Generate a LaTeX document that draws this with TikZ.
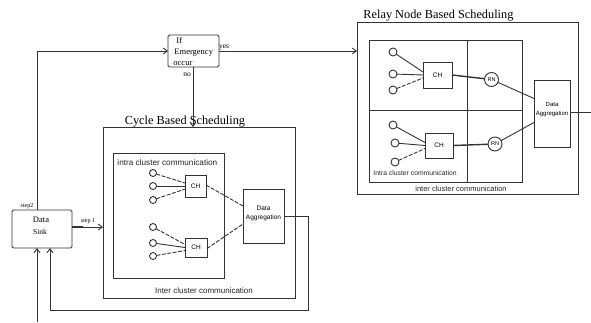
\documentclass[tikz,border=0pt]{standalone}
\usepackage{fontspec}
\setmainfont{Liberation Serif}
\setsansfont{Liberation Sans}
\usetikzlibrary{arrows.meta}
\begin{document}
\begin{tikzpicture}[x=1pt,y=-1pt,
  line width=0.9pt, draw=black!80,
  bx/.style={draw, inner sep=0pt, outer sep=0pt, anchor=north west},
  smallc/.style={draw, circle, inner sep=0pt, outer sep=0pt, minimum size=7pt},
  rnc/.style={draw, circle, inner sep=0pt, outer sep=0pt, minimum size=14pt, font=\sffamily\fontsize{5.5}{6}\selectfont},
  chbox/.style={draw, inner sep=0pt, outer sep=0pt, font=\sffamily\fontsize{6.5}{7}\selectfont},
  title/.style={font=\fontsize{12.3}{14}\selectfont, inner sep=0pt},
  lbl/.style={font=\sffamily\fontsize{8.2}{9}\selectfont, inner sep=0pt, text=black!85},
  tiny/.style={font=\fontsize{6}{7}\selectfont, inner sep=0pt},
  arr/.style={-{Straight Barb[length=4pt,width=6pt]}},
  dsh/.style={dash pattern=on 4pt off 1.5pt}
]
\useasboundingbox (0,0) rectangle (591,322);

% ---------- If Emergency box ----------
\node[bx, rounded corners=1.5pt, minimum width=51pt, minimum height=32pt] (em) at (168,35) {};
\node[anchor=west, inner sep=0pt, font=\fontsize{8.5}{10}\selectfont] (t1) at (176,41) {If};
\node[anchor=west, inner sep=0pt, font=\fontsize{8.5}{10}\selectfont] (t2) at (174,53) {Emergency};
\node[anchor=west, inner sep=0pt, font=\fontsize{8.5}{10}\selectfont] (t3) at (173,64) {occur};
\node[tiny, font=\fontsize{7.5}{8}\selectfont] (yes) at (224,48) {yes};
\node[tiny, font=\fontsize{7.5}{8}\selectfont] (no) at (187,75) {no};

% ---------- Data Sink ----------
\node[bx, rounded corners=1.5pt, minimum width=60pt, minimum height=38pt] (ds) at (12,210) {};
\node[inner sep=0pt, font=\fontsize{8.5}{9}\selectfont] (dst1) at (41,220) {Data};
\node[inner sep=0pt, font=\fontsize{7.5}{9}\selectfont] (dst2) at (40,232) {Sink};
\node[tiny] (s2) at (27,206) {step2};
\node[tiny] (s1) at (88,221) {step 1};

% ---------- Cycle Based Scheduling ----------
\node[bx, minimum width=192pt, minimum height=171pt] (cyc) at (103,127) {};
\node[title] (cyct) at (185,122) {Cycle Based Scheduling};
\node[bx, minimum width=111pt, minimum height=125pt] (cin) at (113,153) {};
\node[lbl, anchor=west] (cinl) at (117,163) {intra cluster communication};
\node[lbl, font=\sffamily\fontsize{8}{9}\selectfont] (cycl) at (204,291) {Inter cluster communication};

\node[chbox, minimum width=21pt, minimum height=22pt] (ch1) at (195.5,186) {CH};
\node[chbox, minimum width=22pt, minimum height=19pt] (ch2) at (196,247.5) {CH};
\node[smallc] (a1) at (153,173) {};
\node[smallc] (a2) at (153,186) {};
\node[smallc] (a3) at (153,200) {};
\node[smallc] (b1) at (153,227) {};
\node[smallc] (b2) at (153,243) {};
\node[smallc] (b3) at (153,256) {};
\draw[dsh] (a1) -- ([yshift=3pt]ch1.west);
\draw (a2) -- (ch1.west);
\draw[dsh] (a3) -- ([yshift=-3pt]ch1.west);
\draw[dsh] (b1) -- ([yshift=3pt]ch2.west);
\draw (b2) -- (ch2.west);
\draw[dsh] (b3) -- ([yshift=-3pt]ch2.west);

\node[bx, minimum width=41pt, minimum height=54pt] (da1) at (243,189) {};
\node[align=center, inner sep=0pt, font=\sffamily\fontsize{6.5}{9}\selectfont] (da1t) at (263.5,213) {Data\\Aggregation};
\draw[dsh] ([yshift=1pt]ch1.east) -- ([yshift=10pt]da1.west);
\draw[dsh] ([yshift=-1pt]ch2.east) -- ([yshift=-8pt]da1.west);

% ---------- Relay Node Based Scheduling ----------
\node[bx, minimum width=221pt, minimum height=172pt] (rel) at (357,22) {};
\node[title, anchor=west] (relt) at (363,16) {Relay Node Based Scheduling};
\node[bx, minimum width=153pt, minimum height=142pt] (rin) at (369,40) {};
\coordinate (vt) at (467,40);
\coordinate (vb) at (467,182);
\draw (vt) -- (vb);
\coordinate (hl) at (369,110);
\coordinate (hr) at (522,110);
\draw (hl) -- (hr);
\node[lbl, font=\sffamily\fontsize{6.8}{8}\selectfont, anchor=west] (rinl) at (373,173) {Intra cluster communication};
\node[lbl, font=\sffamily\fontsize{7.5}{8}\selectfont] (rell) at (461,189) {inter cluster communication};

\node[chbox, minimum width=29pt, minimum height=26pt] (rch1) at (437.5,75) {CH};
\node[chbox, minimum width=28pt, minimum height=25pt] (rch2) at (439,145.5) {CH};
\node[smallc, minimum size=8pt] (c1) at (393,52) {};
\node[smallc, minimum size=8pt] (c2) at (393,74) {};
\node[smallc, minimum size=8pt] (c3) at (393,90) {};
\node[smallc, minimum size=8pt] (d1) at (393,125) {};
\node[smallc, minimum size=8pt] (d2) at (395,143) {};
\node[smallc, minimum size=8pt] (d3) at (395,162) {};
\draw (c1) -- ([yshift=3pt]rch1.west);
\draw (c2) -- (rch1.west);
\draw[dsh] (c3) -- ([yshift=-3pt]rch1.west);
\draw (d1) -- ([yshift=3pt]rch2.west);
\draw (d2) -- (rch2.west);
\draw[dsh] (d3) -- ([yshift=-3pt]rch2.west);

\node[rnc] (rn1) at (491.5,79.5) {RN};
\node[rnc] (rn2) at (495,144) {RN};
\draw[line width=1.4pt] (rch1.east) -- (rn1);
\draw[line width=1.4pt] (rch2.east) -- (rn2);

\node[bx, minimum width=36pt, minimum height=67pt] (da2) at (534,80) {};
\node[align=center, inner sep=0pt, font=\sffamily\fontsize{6}{9}\selectfont] (da2t) at (552,110) {Data\\Aggregation};
\draw (rn1) -- ([yshift=15pt]da2.west);
\draw (rn2) -- ([yshift=-9pt]da2.west);
\coordinate (outr) at (591,112);
\draw ([yshift=1.5pt]da2.east) -- (outr);

% ---------- connectors ----------
\draw[arr] (ds.north -| 37,0) |- (em.west);
\draw[arr] (em.east) -- (em.east -| rel.west);
\draw[arr] (em.south -| 193,0) -- (193,127);
\draw[line width=2pt] ([yshift=2pt]ds.east) -- ++(11,0);
\draw[arr] ([yshift=2pt]ds.east) -- ([yshift=2pt]ds.east -| cyc.west);
\coordinate (inb) at (37,322);
\draw[arr] (inb) -- (inb |- ds.south);
\coordinate (fb1) at (308,216);
\coordinate (fb2) at (308,310);
\coordinate (fb3) at (50,310);
\draw[arr] (da1.east |- fb1) -- (fb1) -- (fb2) -- (fb3) -- (fb3 |- ds.south);
\end{tikzpicture}
\end{document}
